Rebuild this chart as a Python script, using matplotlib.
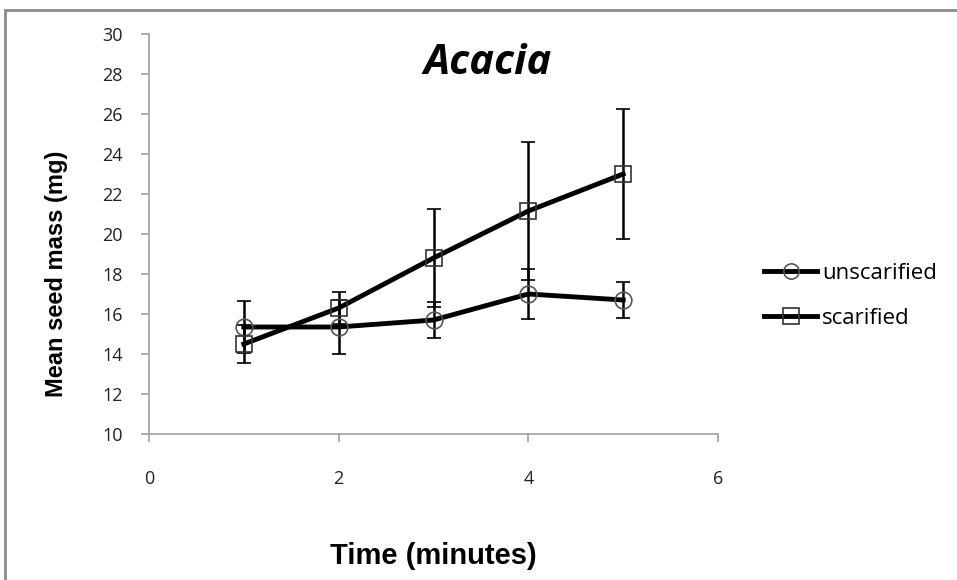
import matplotlib
matplotlib.use("Agg")
import matplotlib.pyplot as plt
from matplotlib.patches import Rectangle

time = [1, 2, 3, 4, 5]
unscarified = [15.35, 15.35, 15.7, 17.0, 16.7]
unscarified_err = [1.3, 1.33, 0.9, 1.23, 0.92]
scarified = [14.5, 16.3, 18.8, 21.15, 23.0]
scarified_err = [0.97, 0.78, 2.45, 3.45, 3.26]
xticks = [0, 2, 4, 6]
yticks = [10, 12, 14, 16, 18, 20, 22, 24, 26, 28, 30]

plt.rcParams['font.family'] = ['Open Sans', 'DejaVu Sans']
arial = ['Liberation Sans', 'DejaVu Sans']

W, H = 957, 580
fig = plt.figure(figsize=(W / 100, H / 100), dpi=100)

# outer chart frame
fig.patches.append(Rectangle((5 / W, -0.05), 1.2, (H - 10) / H + 0.05,
                             transform=fig.transFigure, fill=False,
                             edgecolor='#8c8c8c', linewidth=2, zorder=0))

ax = fig.add_axes([149 / W, (H - 434) / H, (718 - 149) / W, 400 / H])
ax.set_xlim(0, 6)
ax.set_ylim(10, 30)
ax.set_xticks(xticks)
ax.set_yticks(yticks)
for s in ['top', 'right']:
    ax.spines[s].set_visible(False)
for s in ['left', 'bottom']:
    ax.spines[s].set_color('#a0a0a0')
    ax.spines[s].set_linewidth(1.2)
ax.tick_params(direction='out', length=6, width=1.2, color='#a0a0a0',
               labelsize=13, labelcolor='#222222')
ax.tick_params(axis='y', pad=13)
ax.tick_params(axis='x', pad=20)

ax.errorbar(time, unscarified, yerr=unscarified_err, color='black', lw=3.5,
            marker='o', ms=12, mfc='none', mec='#555555', mew=1.2,
            ecolor='black', elinewidth=1.8, capsize=5, capthick=1.8,
            label='unscarified', zorder=3)
ax.errorbar(time, scarified, yerr=scarified_err, color='black', lw=3.5,
            marker='s', ms=12, mfc='none', mec='#333333', mew=1.2,
            ecolor='black', elinewidth=1.8, capsize=5, capthick=1.8,
            label='scarified', zorder=3)

fig.text(488 / W, (H - 63) / H, 'Acacia', fontsize=30, fontweight='bold',
         style='italic', ha='center', va='center')
fig.text(57 / W, (H - 274) / H, 'Mean seed mass (mg)', fontsize=17,
         fontweight='bold', family=arial, rotation=90,
         ha='center', va='center')
fig.text(433 / W, (H - 556) / H, 'Time (minutes)', fontsize=21,
         fontweight='bold', family=arial, ha='center', va='center')

handles, labels = ax.get_legend_handles_labels()
handles = [h[0] if isinstance(h, tuple) else h for h in handles]
leg = fig.legend(handles, labels, loc='center left',
                 bbox_to_anchor=(764 / W, (H - 296) / H), frameon=False,
                 fontsize=16, handlelength=2.4, handletextpad=0.2,
                 labelspacing=1.1, borderaxespad=0, borderpad=0)
for h in leg.legend_handles:
    h.set_markersize(11)
    h.set_linewidth(3.5)

fig.savefig('out.png', dpi=100)
